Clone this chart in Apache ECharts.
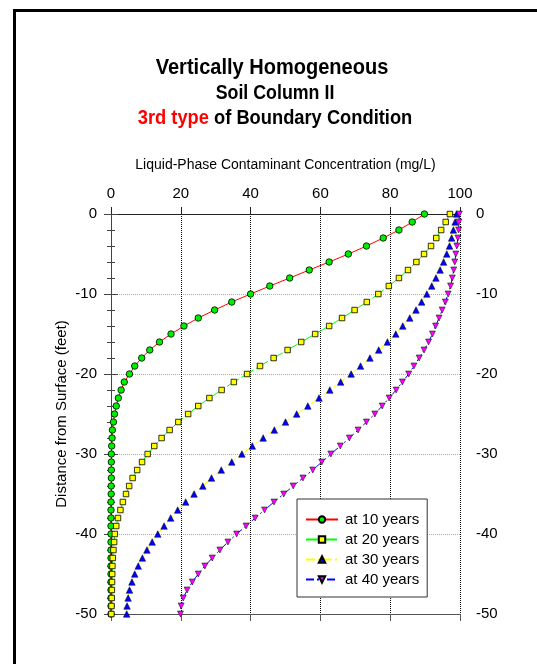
<!DOCTYPE html>
<html>
<head>
<meta charset="utf-8">
<script src="https://cdn.jsdelivr.net/npm/echarts@6/dist/echarts.min.js"></script>
<style>
html,body{margin:0;padding:0;background:#fff;}
#c{width:537px;height:664px;}
</style>
</head>
<body>
<div id="c"></div>
<script>
// Depth below surface (feet)
const depth = [0,-1,-2,-3,-4,-5,-6,-7,-8,-9,-10,-11,-12,-13,-14,-15,-16,-17,-18,-19,-20,-21,-22,-23,-24,-25,-26,-27,-28,-29,-30,-31,-32,-33,-34,-35,-36,-37,-38,-39,-40,-41,-42,-43,-44,-45,-46,-47,-48,-49,-50];
// Concentration (mg/L)
const c10 = [89.8,86.3,82.5,78.0,73.2,68.0,62.5,56.8,51.2,45.5,40.0,34.6,29.7,25.0,20.9,17.2,13.9,11.1,8.8,6.8,5.3,3.8,2.9,2.1,1.5,1.0,0.7,0.4,0.3,0.2,0.1,0.1,0.1,0.1,0.05,0.05,0,0,0,0,0,0,0,0,0,0,0,0,0,0,0];
const c20 = [97.1,95.9,94.6,93.2,91.7,89.7,87.5,85.1,82.5,79.6,76.6,73.3,69.8,66.2,62.5,58.5,54.5,50.6,46.6,42.7,39.0,35.2,31.7,28.2,25.0,22.1,19.3,16.8,14.5,12.4,10.5,8.9,7.5,6.2,5.2,4.3,3.4,2.7,2.0,1.5,1.1,0.9,0.7,0.5,0.4,0.35,0.3,0.25,0.2,0.15,0.1];
const c30 = [99.0,98.6,98.1,97.6,97.0,96.2,95.3,94.3,93.1,91.9,90.5,89.0,87.4,85.6,83.6,81.6,79.2,76.7,74.2,71.5,68.8,65.8,62.7,59.6,56.4,53.2,50.0,46.8,43.6,40.5,37.5,34.6,31.6,28.8,26.3,23.8,21.4,19.1,17.1,15.2,13.4,11.8,10.3,9.0,7.8,6.8,6.0,5.3,4.9,4.6,4.5];
const c40 = [99.8,99.7,99.6,99.4,99.1,98.8,98.5,98.2,97.8,97.3,96.6,95.8,94.9,94.0,93.0,92.1,91.0,89.7,88.3,86.8,85.3,83.5,81.7,79.7,77.7,75.6,73.2,70.8,68.3,65.7,63.0,60.4,57.8,55.0,52.2,49.5,46.7,44.0,41.3,38.7,36.0,33.5,31.2,29.0,26.9,25.0,23.3,21.8,20.7,20.1,19.9];
const seriesNames = ['at 10 years','at 20 years','at 30 years','at 40 years'];
const xTicks = {min:0, max:100, step:20};
const yTicks = {min:-50, max:0, step:10};

const FF = '"Liberation Sans", Arial, sans-serif';
const chart = echarts.init(document.getElementById('c'), null, {renderer:'canvas'});

function pairs(vals){ return vals.map((v,i)=>[v, depth[i]]); }

const baseAxisY = {
  type:'value', min:yTicks.min, max:yTicks.max, interval:yTicks.step,
  axisLine:{show:true, lineStyle:{color:'#444', width:1}},
  axisTick:{show:true, inside:false, length:7, lineStyle:{color:'#444'}},
  minorTick:{show:true, splitNumber:5, length:4, lineStyle:{color:'#444'}},
  axisLabel:{color:'#000', fontSize:15, fontFamily:FF, margin:14},
  splitLine:{show:false}
};

const option = {
  backgroundColor:'#fff',
  animation:false,
  graphic:[
    {type:'rect', shape:{x:14.5, y:10.5, width:700, height:800}, style:{fill:'none', stroke:'#000', lineWidth:3}, silent:true},
    {type:'text', x:272, y:68, scaleX:0.91, style:{text:'Vertically Homogeneous', font:'bold 22px '+FF, fill:'#000', textAlign:'center', textVerticalAlign:'middle'}},
    {type:'text', x:275, y:93, scaleX:0.89, style:{text:'Soil Column II', font:'bold 20px '+FF, fill:'#000', textAlign:'center', textVerticalAlign:'middle'}},
    {type:'text', x:275, y:118, scaleX:0.915, style:{text:'{r|3rd type} of Boundary Condition', font:'bold 20px '+FF, fill:'#000', textAlign:'center', textVerticalAlign:'middle',
      rich:{r:{fill:'#ff0000', font:'bold 20px '+FF}}}}
  ],
  grid:{left:111, top:214, width:349, height:400, containLabel:false},
  legend:{
    left:297, top:499, orient:'vertical',
    backgroundColor:'#fff', borderColor:'#333', borderWidth:1,
    padding:[13,8,10,8], itemGap:5, itemWidth:32, itemHeight:8,
    textStyle:{fontSize:15, fontFamily:FF, color:'#000', padding:[0,0,0,2]},
    data:seriesNames
  },
  xAxis:[
    {type:'value', position:'top', min:xTicks.min, max:xTicks.max, interval:xTicks.step,
     name:'Liquid-Phase Contaminant Concentration (mg/L)', nameLocation:'middle', nameGap:42, nameMoveOverlap:false,
     nameTextStyle:{fontSize:14, fontFamily:FF, color:'#000'},
     axisLine:{show:true, onZero:false, lineStyle:{color:'#222', width:1}},
     axisTick:{show:true, inside:false, length:7, lineStyle:{color:'#222'}},
     axisLabel:{color:'#000', fontSize:15, fontFamily:FF, margin:13},
     splitLine:{show:true, lineStyle:{color:'#000', type:'dotted', width:1}}},
    {type:'value', position:'bottom', min:xTicks.min, max:xTicks.max, interval:xTicks.step,
     axisLine:{show:true, onZero:false, lineStyle:{color:'#555', width:1}},
     axisTick:{show:true, inside:false, length:7, lineStyle:{color:'#555'}},
     axisLabel:{show:false}, splitLine:{show:false}}
  ],
  yAxis:[
    Object.assign({}, baseAxisY, {position:'left', name:'Distance from Surface (feet)', nameLocation:'middle', nameGap:42, nameRotate:90, nameMoveOverlap:false,
      nameTextStyle:{fontSize:15, fontFamily:FF, color:'#000'},
      splitLine:{show:true, lineStyle:{color:'#aaa', type:'dotted', width:1}}}),
    Object.assign({}, baseAxisY, {position:'right', axisLabel:{color:'#000', fontSize:15, fontFamily:FF, margin:16, align:'left'}})
  ],
  series:[
    {name:seriesNames[0], type:'line', data:pairs(c10), symbol:'circle', symbolSize:6.5,
     lineStyle:{color:'#ff0000', width:1, type:'solid'},
     itemStyle:{color:'#00ee00', borderColor:'#000', borderWidth:0.8}},
    {name:seriesNames[1], type:'line', data:pairs(c20), symbol:'rect', symbolSize:5.5,
     lineStyle:{color:'#00ff00', width:1, type:[14,3]},
     itemStyle:{color:'#ffff00', borderColor:'#000', borderWidth:0.8}},
    {name:seriesNames[2], type:'line', data:pairs(c30), symbol:'triangle', symbolSize:6.5,
     lineStyle:{color:'#ffff00', width:1, type:[9,3,2,3]},
     itemStyle:{color:'#0000ff', borderColor:'#000', borderWidth:0.5}},
    {name:seriesNames[3], type:'line', data:pairs(c40), symbol:'triangle', symbolRotate:180, symbolSize:6,
     lineStyle:{color:'#0000ff', width:1, type:[8,3,2,3,2,3]},
     itemStyle:{color:'#ff00ff', borderColor:'#000', borderWidth:0.5}}
  ]
};
chart.setOption(option);
</script>
</body>
</html>
